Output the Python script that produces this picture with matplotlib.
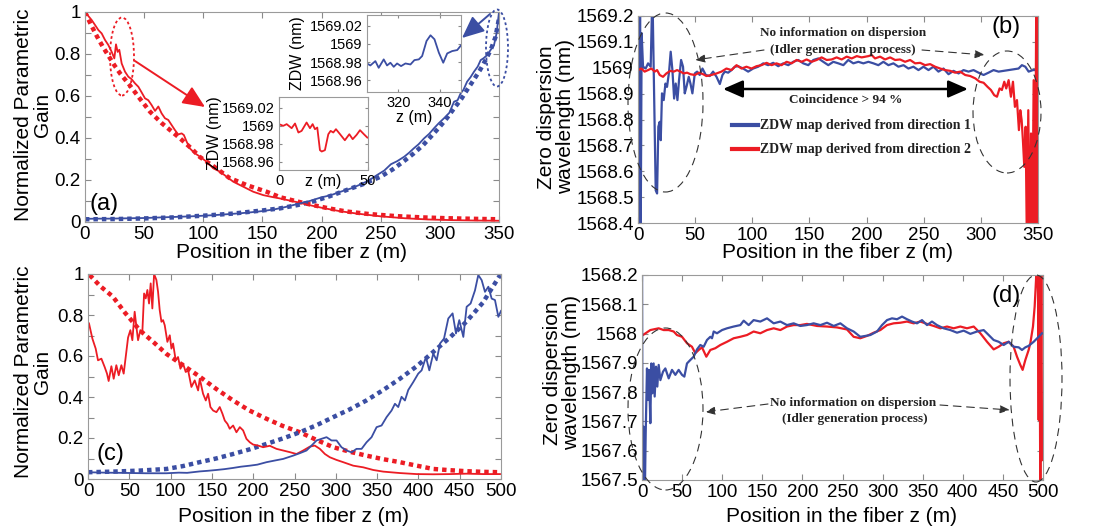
import matplotlib
matplotlib.use("Agg")
import matplotlib.pyplot as plt
from matplotlib.patches import Ellipse, FancyArrowPatch
from matplotlib.ticker import MultipleLocator, FixedLocator, FixedFormatter

# ---------------- data ----------------
# panel (a)
a_red_z = [0, 5.6, 8.5, 11.3, 14.1, 16.9, 19.7, 22.5, 24.8, 26.2, 27.6, 29, 31, 33.8, 36.6, 39.4, 42.3, 45.1,
           47.9, 50.7, 53.5, 56.3, 59.2, 62, 64.8, 67.6, 70.4, 73.2, 76, 78.8, 81.7, 83.6, 85.9, 88.7, 93, 97.2,
           102.8, 108.4, 114, 119.7, 125.3, 133.8, 142.3, 150.7, 159.2, 165, 178.9, 190, 200, 215, 230, 250,
           270, 290, 310, 330, 350]
a_red_v = [1.0, 0.962, 0.938, 0.914, 0.898, 0.867, 0.843, 0.811, 0.779, 0.846, 0.81, 0.82, 0.755, 0.716, 0.692,
           0.68, 0.66, 0.644, 0.617, 0.589, 0.58, 0.557, 0.529, 0.55, 0.517, 0.494, 0.486, 0.462, 0.438, 0.417,
           0.422, 0.414, 0.383, 0.35, 0.327, 0.311, 0.287, 0.256, 0.24, 0.216, 0.192, 0.168, 0.144, 0.128, 0.118,
           0.112, 0.095, 0.08, 0.068, 0.052, 0.04, 0.027, 0.018, 0.012, 0.009, 0.007, 0.006]
a_red_fit_z = [0, 5, 10, 15, 20, 25, 30, 38, 46, 55, 65, 80, 90, 97, 110, 122, 137, 153.6, 165, 180, 193, 207,
               221, 240, 263, 285, 306, 330, 350]
a_red_fit_v = [1.0, 0.94, 0.885, 0.835, 0.79, 0.745, 0.705, 0.65, 0.59, 0.525, 0.47, 0.40, 0.35, 0.31, 0.26,
               0.21, 0.175, 0.144, 0.118, 0.097, 0.08, 0.064, 0.05, 0.038, 0.028, 0.022, 0.018, 0.015, 0.013]
a_blue_z = [0, 10, 20, 30, 40, 50, 60, 70, 80, 90, 100, 110, 120, 130, 140, 150, 160, 170, 182, 190, 199, 208,
            216, 225, 233, 240, 247, 253, 258.6, 264, 269.9, 274, 278, 282, 286.6, 291, 295, 299, 303.5, 308,
            312, 315, 317.6, 320, 323, 326, 328.9, 332, 334.5, 337, 340, 343, 345.8, 348, 350]
a_blue_v = [0.015, 0.016, 0.016, 0.017, 0.018, 0.019, 0.021, 0.023, 0.025, 0.027, 0.030, 0.033, 0.037, 0.041,
            0.046, 0.052, 0.06, 0.072, 0.089, 0.1, 0.116, 0.128, 0.144, 0.16, 0.179, 0.198, 0.224, 0.245, 0.275,
            0.29, 0.311, 0.33, 0.351, 0.37, 0.398, 0.42, 0.446, 0.47, 0.494, 0.52, 0.573, 0.58, 0.613, 0.63,
            0.668, 0.69, 0.716, 0.74, 0.771, 0.78, 0.795, 0.82, 0.843, 0.9, 1.0]
a_blue_fit_z = [0, 25, 50, 75, 100, 125, 150, 165, 180, 193, 207, 221, 235, 250, 260, 269, 278, 286, 293, 300,
                306, 312, 318, 323, 329, 334, 339, 343, 347, 350]
a_blue_fit_v = [0.013, 0.014, 0.017, 0.022, 0.03, 0.04, 0.055, 0.065, 0.081, 0.098, 0.123, 0.152, 0.18, 0.216,
                0.25, 0.287, 0.327, 0.367, 0.41, 0.454, 0.495, 0.541, 0.585, 0.629, 0.68, 0.724, 0.775, 0.82,
                0.88, 0.97]

# insets of (a)
ins_red_z = [0, 2.4, 4.3, 7.1, 9.0, 10.9, 12.7, 15.5, 17.4, 18.9, 20.2, 21.5, 23.0, 24.0, 25.8, 27.7, 29.0,
             30.5, 32.0, 34.3, 37.0, 39.5, 41.4, 43.6, 45.5, 47.7, 49.6]
ins_red_v = [1569.0019, 1569.0000, 1569.0019, 1568.9974, 1569.0026, 1568.9926, 1568.9944, 1569.0037,
             1568.9974, 1569.0019, 1568.9963, 1568.9981, 1568.9730, 1568.9715, 1568.9730, 1568.9907,
             1568.9944, 1568.9926, 1568.9963, 1568.9907, 1568.9840, 1568.9907, 1568.9852, 1568.9900,
             1568.9952, 1568.9907, 1568.9870]
ins_blue_z = [305, 306.6, 309, 310.6, 313, 314.6, 316.2, 317.8, 319.4, 321.3, 323.4, 325.8, 327.7, 329.8,
              331.4, 333.5, 335.4, 337.3, 339.4, 341.5, 343.4, 345.8, 348.2, 350]
ins_blue_v = [1568.9785, 1568.9763, 1568.9811, 1568.9737, 1568.983, 1568.9763, 1568.9793, 1568.9748,
              1568.9785, 1568.9756, 1568.9785, 1568.9774, 1568.9822, 1568.983, 1568.9867, 1569.0033,
              1569.0096, 1569.0052, 1568.9904, 1568.9793, 1568.9896, 1568.9922, 1568.9933, 1568.9985]

# panel (b)
b_blue_z = [0, 0.6, 1.2, 1.8, 2.3, 3.2, 4.4, 6.7, 8.8, 11.1, 12.6, 13.7, 15.5, 16.7, 17.8, 19.0, 19.9, 21.0,
            22.5, 24.0, 25.4, 27.2, 28.6, 30.1, 31.6, 33.0, 34.5, 35.9, 37.7, 39.4, 40.9, 42.4, 44.4, 45.9,
            47.6, 49.7, 51.7, 54.0, 56.4, 59.3, 62.8, 65.7, 68.7, 71.6, 73.9, 76.0, 78.9, 81.8, 84.7, 87.6,
            92.0, 96.4, 100.8, 105.2, 109.6, 113.9, 118.3, 122.7, 127.1, 131.5, 135.8, 140.2, 144.6, 149.0,
            153.4, 157.8, 162.1, 166.5, 170.9, 175.3, 179.7, 184.0, 188.4, 192.8, 197.2, 201.6, 206.0, 210.3,
            214.7, 219.1, 223.5, 227.9, 232.3, 236.6, 241.0, 245.4, 249.8, 254.2, 258.5, 262.9, 267.3, 271.7,
            276.1, 280.5, 284.8, 289.2, 293.6, 298.0, 302.4, 306.7, 311.1, 315.5, 319.9, 324.3, 328.7, 333.0,
            335.9, 338.9, 341.8, 345.6, 349.1]
b_blue_v = [1568.3, 1569.3, 1568.3, 1569.3, 1568.3, 1569.133, 1569.004, 1568.997, 1569.017, 1569.004, 1569.3,
            1569.004, 1568.526, 1568.514, 1568.772, 1568.791, 1568.72, 1568.901, 1568.875, 1568.939, 1568.926,
            1568.985, 1569.062, 1568.991, 1568.881, 1568.939, 1568.875, 1568.952, 1569.030, 1569.004,
            1568.901, 1568.926, 1568.965, 1568.939, 1568.901, 1568.978, 1568.985, 1568.972, 1568.997,
            1568.972, 1568.968, 1568.985, 1568.965, 1568.937, 1568.972, 1568.985, 1568.981, 1568.991,
            1569.004, 1569.006, 1568.997, 1568.985, 1568.997, 1569.004, 1569.017, 1569.010, 1569.019,
            1569.006, 1569.017, 1569.010, 1569.023, 1569.030, 1569.017, 1569.010, 1569.030, 1569.036,
            1569.023, 1569.010, 1569.023, 1569.017, 1569.010, 1569.030, 1569.017, 1569.023, 1569.017,
            1569.023, 1569.017, 1569.010, 1569.023, 1569.010, 1569.017, 1569.004, 1569.010, 1568.997,
            1569.004, 1568.991, 1569.004, 1568.991, 1569.004, 1568.985, 1568.997, 1568.975, 1568.988,
            1568.978, 1568.991, 1568.985, 1568.991, 1568.981, 1568.972, 1568.981, 1568.991, 1568.985,
            1568.988, 1568.991, 1568.994, 1568.997, 1569.010, 1569.004, 1568.985, 1568.991, 1568.991]
b_red_z = [0, 2.9, 5.8, 8.8, 11.7, 14.6, 16.7, 19.0, 21.9, 24.8, 28.3, 31.3, 34.2, 37.1, 40.0, 42.9, 45.9,
           49.7, 53.5, 57.0, 59.9, 64.3, 68.7, 73.0, 77.4, 81.8, 86.2, 90.6, 94.9, 99.3, 103.7, 108.1, 112.5,
           116.9, 121.2, 125.6, 130.0, 134.4, 138.8, 143.2, 147.5, 151.9, 156.3, 160.7, 165.1, 169.4, 173.8,
           178.2, 182.6, 187.0, 191.4, 195.7, 201.6, 204.5, 207.4, 211.8, 216.2, 220.6, 225.0, 229.3, 233.7,
           238.1, 242.5, 246.9, 251.2, 255.6, 260.0, 264.4, 268.8, 273.2, 277.5, 281.9, 286.3, 290.7, 295.1,
           298.9, 302.4, 305.9, 308.8, 311.7, 314.1, 316.4, 318.4, 320.5, 322.2, 324.3, 326.3, 328.1, 329.8,
           331.6, 333.3, 334.5, 335.7, 336.8, 338.0, 339.2, 340.3, 341.5, 342.7, 343.9, 345.0, 346.2, 347.4,
           348.5, 349.4, 350]
b_red_v = [1568.991, 1568.997, 1568.985, 1568.991, 1568.997, 1568.985, 1568.991, 1568.972, 1568.965,
           1568.978, 1568.988, 1568.985, 1568.991, 1568.985, 1568.978, 1568.981, 1568.975, 1568.972,
           1568.981, 1568.975, 1568.968, 1568.972, 1568.978, 1568.985, 1568.997, 1568.991, 1569.010,
           1568.997, 1569.004, 1568.997, 1569.006, 1569.010, 1569.019, 1569.010, 1569.017, 1569.010,
           1569.023, 1569.017, 1569.030, 1569.023, 1569.032, 1569.023, 1569.030, 1569.040, 1569.030,
           1569.032, 1569.040, 1569.032, 1569.043, 1569.036, 1569.045, 1569.040, 1569.045, 1569.049,
           1569.036, 1569.043, 1569.032, 1569.040, 1569.030, 1569.032, 1569.023, 1569.030, 1569.017,
           1569.019, 1569.010, 1569.014, 1569.004, 1568.997, 1568.991, 1568.988, 1568.981, 1568.985,
           1568.972, 1568.968, 1568.959, 1568.946, 1568.942, 1568.926, 1568.914, 1568.894, 1568.888,
           1568.920, 1568.914, 1568.946, 1568.920, 1568.952, 1568.888, 1568.946, 1568.849, 1568.875,
           1568.759, 1568.836, 1568.797, 1568.720, 1568.617, 1568.772, 1568.3, 1568.836, 1568.3, 1568.746,
           1568.3, 1568.952, 1568.3, 1569.3, 1568.3, 1569.3]

# panel (c)
c_red_z = [1.2, 5.3, 9.3, 12.1, 16.2, 20.2, 23.0, 25.0, 28.3, 31.1, 34.3, 37.2, 40.4, 43.2, 46.4, 48.5, 51.3,
           53.7, 56.5, 58.6, 60.6, 63.4, 65.8, 67.9, 69.9, 71.9, 73.9, 75.9, 77.9, 80.0, 82.8, 84.8, 86.8,
           88.9, 90.9, 92.9, 96.1, 99.0, 101.0, 103.0, 106.2, 109.0, 111.9, 115.1, 118.3, 121.2, 125.2, 129.2,
           133.3, 135.3, 139.3, 142.6, 145.4, 148.2, 151.5, 155.5, 159.5, 162.8, 165.6, 168.8, 171.6, 175.7,
           179.7, 183.8, 187.8, 191.8, 195.9, 199.9, 206.0, 212.0, 220.1, 228.2, 236.3, 244.3, 252.4, 260.5,
           268.6, 274.6, 280.7, 286.8, 292.8, 300.9, 309.0, 321.1, 333.2, 345.3, 357.4, 377.6, 397.8, 418.0,
           438.2, 458.4, 478.6, 498.8]
c_red_v = [0.759, 0.685, 0.636, 0.579, 0.587, 0.546, 0.514, 0.478, 0.550, 0.489, 0.555, 0.506, 0.555, 0.514,
           0.62, 0.69, 0.726, 0.677, 0.816, 0.742, 0.677, 0.726, 0.718, 0.905, 0.881, 0.922, 0.856, 0.954,
           0.832, 1.0, 0.971, 0.914, 0.824, 0.767, 0.775, 0.750, 0.669, 0.701, 0.636, 0.661, 0.579, 0.595,
           0.538, 0.563, 0.522, 0.530, 0.449, 0.481, 0.432, 0.489, 0.416, 0.383, 0.416, 0.351, 0.334, 0.326,
           0.351, 0.318, 0.285, 0.269, 0.245, 0.261, 0.228, 0.253, 0.237, 0.196, 0.179, 0.168, 0.163, 0.155,
           0.162, 0.147, 0.139, 0.131, 0.122, 0.139, 0.158, 0.163, 0.147, 0.122, 0.106, 0.093, 0.082, 0.065,
           0.057, 0.044, 0.036, 0.029, 0.024, 0.023, 0.024, 0.026, 0.024, 0.024]
c_red_fit_z = [2, 15, 30, 45, 62.6, 80, 95, 115, 135, 155, 175.7, 195, 216, 235, 256.5, 277, 297, 317, 337,
               357, 377.6, 398, 418, 438, 458, 478, 499]
c_red_fit_v = [0.995, 0.94, 0.89, 0.81, 0.726, 0.665, 0.61, 0.555, 0.50, 0.44, 0.383, 0.335, 0.294, 0.26,
               0.228, 0.19, 0.155, 0.133, 0.114, 0.097, 0.082, 0.065, 0.049, 0.043, 0.038, 0.035, 0.033]
c_blue_z = [0, 20, 40, 54.5, 70, 94.9, 110, 120, 135.3, 145, 155.5, 165, 175.7, 185, 195.9, 205, 216.1, 226,
            236.3, 248.4, 256.5, 264.5, 270.6, 276.7, 282.7, 288.8, 294.8, 300.9, 306.9, 313.0, 319.1, 325.1,
            331.2, 337.2, 343.3, 349.4, 355.4, 361.5, 367.5, 371.6, 375.6, 379.6, 383.7, 387.7, 393.8, 399.8,
            403.9, 409.1, 413.2, 418.0, 422.1, 426.2, 431.0, 436.2, 441.4, 445.5, 449.5, 454.4, 458.4, 463.2,
            468.5, 472.5, 476.6, 480.6, 484.7, 488.7, 492.7, 496.8, 500]
c_blue_v = [0.033, 0.031, 0.030, 0.029, 0.028, 0.028, 0.031, 0.030, 0.037, 0.040, 0.044, 0.048, 0.054, 0.060,
            0.065, 0.070, 0.082, 0.090, 0.098, 0.114, 0.126, 0.139, 0.163, 0.188, 0.196, 0.204, 0.188, 0.188,
            0.155, 0.139, 0.130, 0.147, 0.147, 0.179, 0.204, 0.253, 0.261, 0.302, 0.334, 0.367, 0.351, 0.401,
            0.383, 0.434, 0.473, 0.514, 0.530, 0.595, 0.530, 0.612, 0.579, 0.661, 0.685, 0.783, 0.808, 0.710,
            0.775, 0.693, 0.840, 0.856, 0.920, 0.995, 0.970, 0.913, 0.938, 0.880, 0.873, 0.791, 0.820]
c_blue_fit_z = [0, 30, 62.6, 95, 115, 135, 155, 175.7, 196, 216, 236, 256.5, 277, 297, 317, 337, 357, 377.6,
                398, 418, 438, 458, 478, 499]
c_blue_fit_v = [0.033, 0.036, 0.041, 0.049, 0.063, 0.082, 0.1, 0.122, 0.145, 0.171, 0.198, 0.228, 0.263,
                0.302, 0.34, 0.383, 0.433, 0.489, 0.55, 0.62, 0.69, 0.767, 0.86, 0.995]

# panel (d)
d_red_z = [1.2, 10.4, 20.8, 27.0, 33.3, 39.5, 43.6, 49.9, 56.1, 62.3, 66.5, 70.7, 74.8, 80.2, 85.2, 91.4, 97.7,
           106.0, 114.3, 122.6, 130.9, 139.2, 147.5, 155.9, 164.2, 172.5, 180.8, 189.1, 197.4, 205.7, 218.2,
           230.7, 243.1, 255.6, 263.9, 272.2, 280.5, 288.9, 297.2, 305.5, 313.8, 322.1, 330.4, 338.7, 347.0,
           355.4, 363.7, 372.0, 380.3, 388.6, 396.9, 405.2, 413.6, 421.9, 430.2, 438.5, 444.7, 451.0, 457.2,
           463.4, 467.6, 471.7, 474.6, 478.0, 482.1, 484.2, 487.5, 489.6, 491.3, 492.5, 493.8, 494.6, 495.4,
           496.7, 497.9, 498.8]
d_red_v = [1567.995, 1568.012, 1568.018, 1568.012, 1568.012, 1568.007, 1567.995, 1567.989, 1567.967,
           1567.955, 1567.933, 1567.944, 1567.953, 1567.921, 1567.944, 1567.950, 1567.961, 1567.972,
           1567.984, 1567.989, 1567.995, 1568.007, 1568.001, 1568.012, 1568.018, 1568.012, 1568.024,
           1568.029, 1568.029, 1568.033, 1568.026, 1568.024, 1568.021, 1568.014, 1567.989, 1567.984,
           1567.992, 1568.003, 1568.012, 1568.029, 1568.035, 1568.037, 1568.041, 1568.035, 1568.041,
           1568.033, 1568.026, 1568.018, 1568.024, 1568.018, 1568.024, 1568.018, 1568.024, 1568.001,
           1567.972, 1567.946, 1567.955, 1567.967, 1567.972, 1567.955, 1567.921, 1567.893, 1567.876,
           1567.910, 1567.944, 1567.967, 1568.024, 1568.092, 1568.183, 1568.3, 1568.137, 1567.705, 1568.3,
           1567.4, 1568.3, 1567.568]
d_blue_z = [0, 0.8, 2.1, 3.3, 4.6, 6.2, 7.5, 8.7, 10.4, 11.6, 12.9, 14.5, 15.8, 17.5, 19.1, 20.8, 22.9, 26.2,
            29.1, 33.3, 37.4, 41.6, 45.7, 49.9, 52.8, 56.1, 60.3, 64.4, 68.6, 72.7, 76.9, 81.0, 85.2, 87.3,
            89.4, 93.5, 99.8, 106.0, 114.3, 122.6, 126.8, 133.0, 139.2, 147.5, 155.9, 164.2, 172.5, 180.8,
            189.1, 197.4, 205.7, 214.0, 222.4, 230.7, 239.0, 247.3, 255.6, 263.9, 272.2, 278.5, 284.7, 293.0,
            299.3, 305.5, 311.7, 318.0, 324.2, 330.4, 336.7, 342.9, 349.1, 355.4, 361.6, 367.8, 376.1, 384.5,
            392.8, 401.1, 409.4, 417.7, 426.0, 432.3, 438.5, 444.7, 451.0, 457.2, 463.4, 469.7, 473.8, 478.0,
            482.1, 488.4, 494.6, 498.8]
d_blue_v = [1568.3, 1567.4, 1567.682, 1567.4, 1567.659, 1567.881, 1567.773, 1567.876, 1567.694, 1567.898,
            1567.796, 1567.898, 1567.785, 1567.887, 1567.819, 1567.893, 1567.841, 1567.870, 1567.881,
            1567.847, 1567.876, 1567.859, 1567.876, 1567.859, 1567.853, 1567.898, 1567.910, 1567.921,
            1567.946, 1567.961, 1567.955, 1567.978, 1567.989, 1567.984, 1568.007, 1568.001, 1568.012,
            1568.018, 1568.024, 1568.029, 1568.044, 1568.029, 1568.046, 1568.041, 1568.052, 1568.035,
            1568.041, 1568.029, 1568.035, 1568.026, 1568.029, 1568.035, 1568.029, 1568.037, 1568.026,
            1568.035, 1568.018, 1568.007, 1567.989, 1567.992, 1567.995, 1568.007, 1568.029, 1568.046,
            1568.052, 1568.049, 1568.058, 1568.049, 1568.041, 1568.035, 1568.046, 1568.029, 1568.041,
            1568.029, 1568.018, 1568.012, 1568.003, 1568.010, 1567.999, 1568.007, 1568.012, 1567.995,
            1567.978, 1567.972, 1567.961, 1567.972, 1567.955, 1567.953, 1567.944, 1567.953, 1567.958,
            1567.972, 1567.989, 1568.001]

b_yticks = [1568.4, 1568.5, 1568.6, 1568.7, 1568.8, 1568.9, 1569.0, 1569.1, 1569.2]
b_ylabels = ['1568.4', '1568.5', '1568.6', '1568.7', '1568.8', '1568.9', '1569', '1569.1', '1569.2']
d_yticks = [1567.5, 1567.6, 1567.7, 1567.8, 1567.9, 1568.0, 1568.1, 1568.2]
d_ylabels = ['1567.5', '1567.6', '1567.7', '1567.8', '1567.9', '1568', '1568.1', '1568.2']
g_yticks = [0, 0.2, 0.4, 0.6, 0.8, 1.0]
g_ylabels = ['0', '0.2', '0.4', '0.6', '0.8', '1']
ins_yticks = [1568.96, 1568.98, 1569.0, 1569.02]
ins_ylabels = ['1568.96', '1568.98', '1569', '1569.02']

# ---------------- style ----------------
RED = '#ec1c24'
BLUE = '#3b4ea3'
SANS = 'Liberation Sans'
SERIF = 'Liberation Serif'
plt.rcParams['font.family'] = [SANS, 'DejaVu Sans']

W, H = 1096, 531
fig = plt.figure(figsize=(W / 100, H / 100), dpi=100)


def F(x, y):
    return (x / W, 1 - y / H)


def box(l, r, t, b):
    return [l / W, 1 - b / H, (r - l) / W, (b - t) / H]


def style(ax, size=13.5, length=4):
    for s in ax.spines.values():
        s.set_color('#9a9a9a')
        s.set_linewidth(0.8)
    ax.tick_params(which='both', direction='in', top=True, right=True, length=length, width=0.8,
                   color='#8a8a8a', labelsize=size, labelcolor='black', pad=3)


DOT = (0, (1.0, 0.9))

# (a)
axa = fig.add_axes(box(85, 499, 12, 222))
axa.plot(a_red_fit_z, a_red_fit_v, color=RED, lw=3.2, ls=DOT)
axa.plot(a_blue_fit_z, a_blue_fit_v, color=BLUE, lw=3.2, ls=DOT)
axa.plot(a_red_z, a_red_v, color=RED, lw=1.3)
axa.plot(a_blue_z, a_blue_v, color=BLUE, lw=1.3)
axa.set_xlim(0, 350)
axa.set_ylim(0, 1)
axa.xaxis.set_major_locator(MultipleLocator(50))
axa.yaxis.set_major_locator(FixedLocator(g_yticks))
axa.yaxis.set_major_formatter(FixedFormatter(g_ylabels))
axa.yaxis.set_minor_locator(MultipleLocator(0.1))
style(axa)

# (b)
axb = fig.add_axes(box(638, 1038, 16, 223))
axb.plot(b_blue_z, b_blue_v, color=BLUE, lw=1.6)
axb.plot(b_red_z, b_red_v, color=RED, lw=1.6)
axb.set_xlim(0, 350)
axb.set_ylim(1568.4, 1569.2)
axb.xaxis.set_major_locator(MultipleLocator(50))
axb.yaxis.set_major_locator(FixedLocator(b_yticks))
axb.yaxis.set_major_formatter(FixedFormatter(b_ylabels))
style(axb)

# (c)
axc = fig.add_axes(box(88, 501, 274, 479))
axc.plot(c_red_fit_z, c_red_fit_v, color=RED, lw=3.2, ls=DOT)
axc.plot(c_blue_fit_z, c_blue_fit_v, color=BLUE, lw=3.2, ls=DOT)
axc.plot(c_red_z, c_red_v, color=RED, lw=1.3)
axc.plot(c_blue_z, c_blue_v, color=BLUE, lw=1.3)
axc.set_xlim(0, 500)
axc.set_ylim(0, 1)
axc.xaxis.set_major_locator(MultipleLocator(50))
axc.yaxis.set_major_locator(FixedLocator(g_yticks))
axc.yaxis.set_major_formatter(FixedFormatter(g_ylabels))
axc.yaxis.set_minor_locator(MultipleLocator(0.1))
style(axc)

# (d)
axd = fig.add_axes(box(642, 1043, 275, 480))
axd.plot(d_red_z, d_red_v, color=RED, lw=1.6)
axd.plot(d_blue_z, d_blue_v, color=BLUE, lw=1.6)
axd.set_xlim(0, 500)
axd.set_ylim(1567.5, 1568.2)
axd.xaxis.set_major_locator(MultipleLocator(50))
axd.yaxis.set_major_locator(FixedLocator(d_yticks))
axd.yaxis.set_major_formatter(FixedFormatter(d_ylabels))
style(axd)

# insets
axi1 = fig.add_axes(box(279, 368, 97, 170))
axi1.plot(ins_red_z, ins_red_v, color=RED, lw=1.3)
axi1.set_xlim(0, 50)
axi1.set_ylim(1568.951, 1569.032)
axi1.set_xticks([0, 50])
axi1.yaxis.set_major_locator(FixedLocator(ins_yticks))
axi1.yaxis.set_major_formatter(FixedFormatter(ins_ylabels))
style(axi1, size=10.5, length=2.5)
axi1.set_xlabel('z (m)', fontsize=11.5)
axi1.xaxis.set_label_coords(0.5, -0.05)
axi1.set_ylabel('ZDW (nm)', fontsize=11.5, va='center')
axi1.yaxis.set_label_coords(-0.72, 0.5)

axi2 = fig.add_axes(box(367, 461, 15, 92))
axi2.plot(ins_blue_z, ins_blue_v, color=BLUE, lw=1.3)
axi2.set_xlim(305, 350)
axi2.set_ylim(1568.947, 1569.032)
axi2.set_xticks([320, 340])
axi2.yaxis.set_major_locator(FixedLocator(ins_yticks))
axi2.yaxis.set_major_formatter(FixedFormatter(ins_ylabels))
style(axi2, size=10.5, length=2.5)
axi2.set_xlabel('z (m)', fontsize=11.5)
axi2.xaxis.set_label_coords(0.5, -0.23)
axi2.set_ylabel('ZDW (nm)', fontsize=11.5, va='center')
axi2.yaxis.set_label_coords(-0.74, 0.5)

# axis labels
LBL = 15
fig.text(*F(292, 253), 'Position in the fiber z (m)', fontsize=LBL, ha='center', va='center')
fig.text(*F(838, 253), 'Position in the fiber z (m)', fontsize=LBL, ha='center', va='center')
fig.text(*F(294, 517), 'Position in the fiber z (m)', fontsize=LBL, ha='center', va='center')
fig.text(*F(842, 517), 'Position in the fiber z (m)', fontsize=LBL, ha='center', va='center')
fig.text(*F(33, 115), 'Normalized Parametric\nGain', fontsize=LBL, rotation=90, ha='center', va='center',
         multialignment='center', linespacing=1.0)
fig.text(*F(33, 372), 'Normalized Parametric\nGain', fontsize=LBL, rotation=90, ha='center', va='center',
         multialignment='center', linespacing=1.0)
fig.text(*F(556, 117), 'Zero dispersion\nwavelength (nm)', fontsize=LBL, rotation=90, ha='center',
         va='center', multialignment='center', linespacing=1.0)
fig.text(*F(562, 373), 'Zero dispersion\nwavelength (nm)', fontsize=LBL, rotation=90, ha='center',
         va='center', multialignment='center', linespacing=1.0)

# panel letters
for (x, y, t) in [(104, 204, '(a)'), (1006, 27, '(b)'), (110, 454, '(c)'), (1006, 296, '(d)')]:
    fig.text(*F(x, y), t, fontsize=17, ha='center', va='center')


def ell(cx, cy, w, h, color, ls, lw):
    fig.add_artist(Ellipse(F(cx, cy), w / W, h / H, transform=fig.transFigure, fill=False,
                           edgecolor=color, linestyle=ls, lw=lw, zorder=5))


def arrow(p1, p2, color, lw, ls='-', style_='-|>', ms=15):
    fig.add_artist(FancyArrowPatch(F(*p1), F(*p2), transform=fig.transFigure, arrowstyle=style_,
                                   mutation_scale=ms, color=color, lw=lw, linestyle=ls,
                                   shrinkA=0, shrinkB=0, zorder=6))


# (a) annotations
ell(122, 56.5, 24, 78, RED, (0, (1.5, 1.5)), 1.3)
ell(497, 48, 22, 77, BLUE, (0, (1.5, 1.5)), 1.3)
arrow((135, 61), (205, 107), RED, 1.4, style_='-|>,head_length=0.9,head_width=0.4', ms=15)
arrow((490, 14), (462, 38), BLUE, 1.4, style_='-|>,head_length=0.9,head_width=0.4', ms=15)

GRAY = '#333333'
DASH = (0, (7, 5))
# (b) annotations
ell(665.5, 102.5, 75, 179, GRAY, DASH, 0.8)
ell(1007, 112, 68, 122, GRAY, DASH, 0.8)
fig.text(*F(843, 33), 'No information on dispersion', fontsize=9.5, fontweight='bold', family=SERIF,
         ha='center', va='center', color='#222222')
fig.text(*F(843, 50), '(Idler generation process)', fontsize=9.5, fontweight='bold', family=SERIF,
         ha='center', va='center', color='#222222')
arrow((764, 50), (695, 60), GRAY, 0.8, ls=DASH, style_='-|>,head_length=0.5,head_width=0.2', ms=12)
arrow((922, 50), (985, 55), GRAY, 0.8, ls=DASH, style_='-|>,head_length=0.5,head_width=0.2', ms=12)
arrow((723, 89), (968, 89), 'black', 1.8, style_='<|-|>,head_length=0.8,head_width=0.35', ms=15)
fig.text(*F(846, 99.5), 'Coincidence > 94 %', fontsize=9.5, fontweight='bold', family=SERIF,
         ha='center', va='center', color='#222222')
fig.add_artist(plt.Line2D([732 / W, 758 / W], [1 - 125 / H, 1 - 125 / H], color=BLUE, lw=3,
                          transform=fig.transFigure))
fig.add_artist(plt.Line2D([732 / W, 758 / W], [1 - 149 / H, 1 - 149 / H], color=RED, lw=3,
                          transform=fig.transFigure))
fig.text(*F(760, 125), 'ZDW map derived from direction 1', fontsize=10, fontweight='bold', family=SERIF,
         ha='left', va='center', color='#222222')
fig.text(*F(760, 149), 'ZDW map derived from direction 2', fontsize=10, fontweight='bold', family=SERIF,
         ha='left', va='center', color='#222222')

# (d) annotations
ell(665.5, 409, 75, 162, GRAY, DASH, 0.8)
ell(1036, 378.5, 52, 207, GRAY, DASH, 0.8)
fig.text(*F(853, 403), 'No information on dispersion', fontsize=9.5, fontweight='bold', family=SERIF,
         ha='center', va='center', color='#222222')
fig.text(*F(855, 419), '(Idler generation process)', fontsize=9.5, fontweight='bold', family=SERIF,
         ha='center', va='center', color='#222222')
arrow((768, 404), (705, 412), GRAY, 0.8, ls=DASH, style_='-|>,head_length=0.5,head_width=0.2', ms=12)
arrow((940, 405), (1010, 410), GRAY, 0.8, ls=DASH, style_='-|>,head_length=0.5,head_width=0.2', ms=12)

fig.savefig('out.png', dpi=100)
